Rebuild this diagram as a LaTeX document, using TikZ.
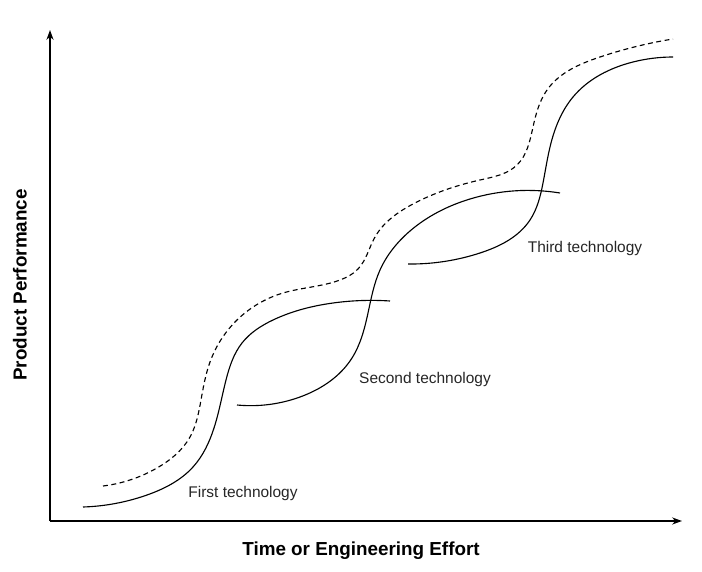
\documentclass[tikz,border=0pt]{standalone}
\usepackage{fontspec}
\setmainfont{Liberation Sans}
\usetikzlibrary{arrows.meta,positioning,hobby}

\begin{document}
\begin{tikzpicture}[x=0.025cm, y=-0.025cm, use Hobby shortcut,
  curve/.style={line width=0.8pt},
  envelope/.style={curve, dash pattern=on 3.5pt off 2.5pt},
  axis/.style={line width=1.5pt, -{Stealth[length=7pt, width=5pt]}},
  tech/.style={font=\fontsize{11}{13}\selectfont, text=black!85},
  axislabel/.style={font=\fontsize{13.4}{16}\selectfont\bfseries}
]
  \useasboundingbox (0,0) rectangle (702,571);

  % Axes
  \coordinate (origin) at (50,521);
  \coordinate (ytop) at (50,30);
  \coordinate (xend) at (682,521);
  \draw[axis] (origin) -- (ytop);
  \draw[axis] (origin) -- (xend);

  \node[axislabel] (xlabel) at (361,551) {Time or Engineering Effort};
  \node[axislabel, rotate=90] (ylabel) at (20,285) {Product Performance};

  % Three S-curves
  \draw[curve] (83,507) .. (147,495) .. (193,467) .. (214,428) .. (226,380)
    .. (242,343) .. (273,320) .. (333,303) .. (390,301);
  \draw[curve] (237,405) .. (300,397) .. (352,358) .. (368,313) .. (380,270)
    .. (410,231) .. (470,199) .. (560,193);
  \draw[curve] (408,264) .. (480,253) .. (530,220) .. (543,183) .. (551,143)
    .. (573,97) .. (633,62) .. (673,57);

  % Envelope of the curves
  \draw[envelope] (103,486) .. (157,468) .. (190,437) .. (201,400) .. (210,362)
    .. (235,322) .. (283,293) .. (340,280) .. (358,269) .. (375,237) .. (413,204)
    .. (480,180) .. (517,165) .. (533,127) .. (547,90) .. (600,57) .. (673,39);

  % Labels
  \node[tech] (first) at (243,493) {First technology};
  \node[tech] (second) at (425,379) {Second technology};
  \node[tech] (third) at (585,248) {Third technology};
\end{tikzpicture}
\end{document}
